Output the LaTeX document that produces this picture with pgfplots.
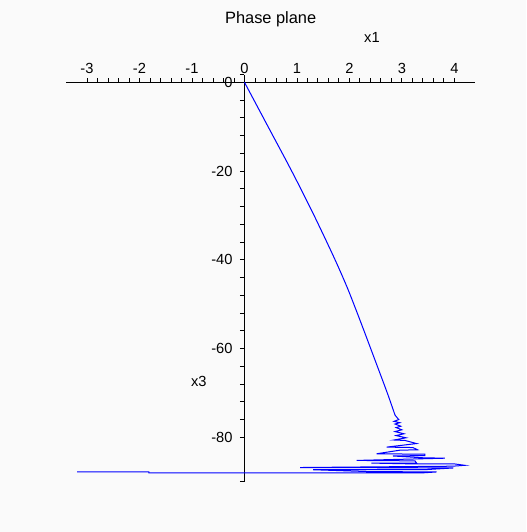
\documentclass[border=0pt]{standalone}
\usepackage{pgfplots}
\pgfplotsset{compat=1.18}
\usepackage{fontspec}
\setmainfont{Liberation Sans}
\definecolor{bgc}{RGB}{250,250,250}
\definecolor{trj}{RGB}{0,0,255}
\begin{document}
\begin{tikzpicture}
\fill[bgc] (0,0) rectangle (394.5pt,399pt);
\useasboundingbox (0,0) rectangle (394.5pt,399pt);
\begin{axis}[
  at={(49.5pt,37.7pt)}, anchor=south west,
  scale only axis, width=307pt, height=305.3pt,
  xmin=-3.4, xmax=4.4, ymin=-90, ymax=1.7,
  axis lines=middle,
  axis line style={-, black, line width=0.75pt},
  hide obscured x ticks=false, hide obscured y ticks=false,
  xtick={-3,-2,-1,0,1,2,3,4}, xticklabels={-3,-2,-1,0,1,2,3,4},
  ytick={-80,-60,-40,-20,0}, yticklabels={-80,-60,-40,-20,0},
  extra y ticks={-90,1.7}, extra y tick labels={},
  minor x tick num=4, minor y tick num=4,
  tick align=center, major tick length=3.5pt, minor tick length=3.5pt,
  tick style={black, line width=0.6pt},
  x tick style={yshift=1.75pt},
  y tick style={xshift=-1.75pt},
  xticklabel style={anchor=base, yshift=8.25pt, font=\fontsize{11}{13}\selectfont},
  yticklabel style={anchor=east, inner sep=0pt, xshift=-7pt, font=\fontsize{11}{13}\selectfont},
  xlabel={x1},
  xlabel style={at={(axis cs:2.43,0)}, anchor=base, yshift=29.5pt, font=\fontsize{11}{13}\selectfont},
  ylabel={x3},
  ylabel style={at={(axis cs:-0.87,-68.5)}, anchor=base, rotate=0, font=\fontsize{11}{13}\selectfont},
  title={Phase plane},
  title style={at={(axis cs:0.5,0)}, anchor=base, yshift=38.25pt, font=\fontsize{12.3}{14}\selectfont},
  clip=false,
]
\addplot[trj, line width=0.75pt, smooth] coordinates {
(0,0) (0.45,-10.0) (0.90,-20.0) (1.31,-29.6) (1.70,-39.3) (1.95,-46.0)
(2.15,-52.0) (2.33,-57.6) (2.52,-63.6) (2.71,-69.6) (2.80,-72.6) (2.87,-75.0)
};
\addplot[trj, line width=0.75pt] coordinates {
(2.87,-75.0)
(2.94,-76.0) (2.85,-76.4) (2.96,-76.7) (2.87,-77.0) (2.98,-77.5)
(2.89,-77.8) (3.00,-78.3) (2.87,-78.7) (3.04,-79.2) (2.89,-79.6)
(3.08,-80.1) (2.85,-80.6) (3.06,-80.7) (3.28,-81.4) (2.71,-82.2)
(3.21,-82.3) (3.30,-82.8) (2.96,-82.9) (2.52,-83.7) (3.44,-83.8)
(3.44,-84.1) (2.83,-84.2) (3.40,-84.6) (3.82,-84.7) (2.14,-85.2)
(3.25,-85.3) (3.28,-85.8) (2.42,-85.8) (3.28,-86.0) (4.01,-86.0)
(4.20,-86.3) (3.97,-86.5) (1.06,-86.8) (3.98,-86.9) (3.41,-87.3)
(1.31,-87.3) (2.33,-87.7) (3.66,-87.8) (3.40,-88.0) (-1.82,-88.0)
(-1.82,-87.8) (-3.19,-87.8)
};
\end{axis}
\end{tikzpicture}
\end{document}
